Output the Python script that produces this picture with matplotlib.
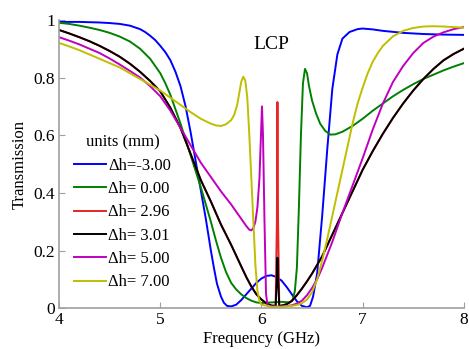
import matplotlib
matplotlib.use('Agg')
import matplotlib.pyplot as plt

plt.rcParams['font.family'] = ['Liberation Serif', 'DejaVu Serif']

# values (frequency in GHz, transmission)
f_m300 = [4.0, 4.2, 4.4, 4.5, 4.6, 4.7, 4.8, 4.85, 4.9, 4.95, 5.0, 5.05, 5.1, 5.15, 5.2, 5.25,
          5.3, 5.35, 5.4, 5.45, 5.5, 5.53, 5.56, 5.6, 5.63, 5.66, 5.7, 5.75, 5.8, 5.85, 5.9,
          5.95, 6.0, 6.05, 6.1, 6.15, 6.2, 6.25, 6.3, 6.35, 6.4, 6.45, 6.48, 6.51, 6.55, 6.6,
          6.65, 6.7, 6.75, 6.8, 6.87, 6.95, 7.0, 7.1, 7.2, 7.4, 7.6, 7.8, 8.0]
t_m300 = [0.993, 0.993, 0.991, 0.989, 0.986, 0.98, 0.968, 0.958, 0.945, 0.93, 0.91, 0.888,
          0.86, 0.82, 0.77, 0.70, 0.61, 0.51, 0.41, 0.31, 0.2, 0.14, 0.085, 0.04, 0.018, 0.008,
          0.006, 0.012, 0.028, 0.048, 0.068, 0.088, 0.103, 0.112, 0.114, 0.108, 0.095, 0.073,
          0.048, 0.024, 0.008, 0.003, 0.008, 0.04, 0.12, 0.32, 0.55, 0.76, 0.88, 0.935, 0.958,
          0.968, 0.97, 0.967, 0.962, 0.955, 0.951, 0.949, 0.948]

f_000 = [4.0, 4.1, 4.2, 4.3, 4.4, 4.5, 4.6, 4.7, 4.8, 4.9, 5.0, 5.05, 5.1, 5.15, 5.2, 5.3, 5.4,
         5.5, 5.55, 5.6, 5.65, 5.7, 5.75, 5.8, 5.85, 5.9, 5.95, 6.0, 6.1, 6.2, 6.28, 6.31,
         6.33, 6.35, 6.37, 6.39, 6.41, 6.43, 6.45, 6.47, 6.5, 6.54, 6.58, 6.63, 6.68, 6.73,
         6.8, 6.9, 7.0, 7.1, 7.2, 7.3, 7.4, 7.5, 7.6, 7.7, 7.8, 7.9, 8.0]
t_000 = [0.99, 0.986, 0.98, 0.973, 0.965, 0.955, 0.942, 0.925, 0.9, 0.865, 0.815, 0.78, 0.74,
         0.69, 0.64, 0.53, 0.42, 0.3, 0.235, 0.175, 0.125, 0.088, 0.065, 0.048, 0.035, 0.026,
         0.02, 0.018, 0.02, 0.022, 0.02, 0.03, 0.06, 0.14, 0.35, 0.6, 0.78, 0.83, 0.815, 0.77,
         0.72, 0.675, 0.64, 0.615, 0.602, 0.603, 0.612, 0.632, 0.657, 0.685, 0.71, 0.735,
         0.757, 0.777, 0.795, 0.81, 0.825, 0.838, 0.85]

f_296 = [4.0, 4.1, 4.2, 4.3, 4.4, 4.5, 4.6, 4.7, 4.8, 4.9, 5.0, 5.1, 5.2, 5.3, 5.4, 5.5, 5.6,
         5.7, 5.8, 5.85, 5.9, 5.95, 6.0, 6.05, 6.1, 6.14, 6.152, 6.158, 6.164, 6.176, 6.2,
         6.25, 6.3, 6.35, 6.4, 6.45, 6.5, 6.6, 6.7, 6.8, 6.9, 7.0, 7.1, 7.2, 7.3, 7.4, 7.5,
         7.6, 7.7, 7.8, 7.9, 8.0]
t_296 = [0.965, 0.953, 0.94, 0.926, 0.91, 0.892, 0.872, 0.848, 0.82, 0.788, 0.752, 0.695,
         0.625, 0.535, 0.445, 0.37, 0.29, 0.22, 0.145, 0.108, 0.075, 0.048, 0.03, 0.016, 0.009,
         0.008, 0.3, 0.715, 0.3, 0.008, 0.009, 0.014, 0.025, 0.045, 0.068, 0.093, 0.12, 0.18,
         0.255, 0.33, 0.405, 0.48, 0.545, 0.605, 0.66, 0.71, 0.755, 0.795, 0.83, 0.86, 0.882,
         0.9]

f_301 = [4.0, 4.1, 4.2, 4.3, 4.4, 4.5, 4.6, 4.7, 4.8, 4.9, 5.0, 5.1, 5.2, 5.3, 5.4, 5.5, 5.6,
         5.7, 5.8, 5.85, 5.9, 5.95, 6.0, 6.05, 6.1, 6.14, 6.152, 6.158, 6.164, 6.176, 6.2,
         6.25, 6.3, 6.35, 6.4, 6.45, 6.5, 6.6, 6.7, 6.8, 6.9, 7.0, 7.1, 7.2, 7.3, 7.4, 7.5,
         7.6, 7.7, 7.8, 7.9, 8.0]
t_301 = [0.965, 0.953, 0.94, 0.926, 0.91, 0.892, 0.872, 0.848, 0.82, 0.788, 0.752, 0.695,
         0.625, 0.535, 0.445, 0.37, 0.29, 0.22, 0.145, 0.108, 0.075, 0.048, 0.03, 0.016, 0.009,
         0.008, 0.1, 0.175, 0.1, 0.008, 0.009, 0.014, 0.025, 0.045, 0.068, 0.093, 0.12, 0.18,
         0.255, 0.33, 0.405, 0.48, 0.545, 0.605, 0.66, 0.71, 0.755, 0.795, 0.83, 0.86, 0.882,
         0.9]

f_500 = [4.0, 4.1, 4.2, 4.3, 4.4, 4.5, 4.6, 4.7, 4.8, 4.9, 5.0, 5.1, 5.2, 5.3, 5.4, 5.5, 5.6,
         5.7, 5.75, 5.8, 5.85, 5.88, 5.9, 5.92, 5.94, 5.96, 5.98, 5.995, 6.005, 6.015, 6.03,
         6.045, 6.06, 6.1, 6.2, 6.3, 6.35, 6.4, 6.45, 6.5, 6.55, 6.6, 6.7, 6.8, 6.9, 7.0,
         7.1, 7.2, 7.3, 7.4, 7.5, 7.6, 7.7, 7.8, 7.9, 8.0]
t_500 = [0.94, 0.928, 0.915, 0.9, 0.885, 0.866, 0.845, 0.823, 0.8, 0.77, 0.735, 0.685, 0.625,
         0.565, 0.505, 0.455, 0.405, 0.36, 0.335, 0.31, 0.285, 0.272, 0.27, 0.278, 0.3, 0.35,
         0.45, 0.6, 0.70, 0.6, 0.3, 0.05, 0.01, 0.005, 0.005, 0.01, 0.016, 0.026, 0.045, 0.07,
         0.1, 0.14, 0.23, 0.33, 0.425, 0.52, 0.62, 0.71, 0.785, 0.84, 0.885, 0.92, 0.942,
         0.957, 0.968, 0.975]

f_700 = [4.0, 4.1, 4.2, 4.3, 4.4, 4.5, 4.6, 4.7, 4.8, 4.9, 5.0, 5.1, 5.2, 5.3, 5.4, 5.5, 5.55,
         5.6, 5.65, 5.7, 5.73, 5.76, 5.78, 5.8, 5.82, 5.84, 5.86, 5.88, 5.9, 5.92, 5.94, 5.96,
         5.98, 6.0, 6.1, 6.2, 6.3, 6.35, 6.4, 6.45, 6.5, 6.55, 6.6, 6.65, 6.7, 6.75, 6.8, 6.85,
         6.9, 6.95, 7.0, 7.05, 7.1, 7.15, 7.2, 7.3, 7.4, 7.5, 7.6, 7.7, 7.8, 7.9, 8.0]
t_700 = [0.92, 0.908, 0.895, 0.88, 0.865, 0.85, 0.835, 0.815, 0.795, 0.775, 0.755, 0.73,
         0.705, 0.68, 0.657, 0.64, 0.634, 0.632, 0.638, 0.652, 0.67, 0.705, 0.745, 0.785,
         0.803, 0.79, 0.73, 0.6, 0.45, 0.3, 0.15, 0.06, 0.025, 0.012, 0.005, 0.005, 0.008,
         0.011, 0.017, 0.03, 0.055, 0.1, 0.165, 0.24, 0.32, 0.4, 0.48, 0.56, 0.64, 0.71, 0.765,
         0.815, 0.855, 0.885, 0.91, 0.943, 0.962, 0.972, 0.977, 0.978, 0.977, 0.975, 0.973]

series = [
    (f_m300, t_m300, 'Δh=-3.00', (0, 0, 1)),
    (f_000, t_000, 'Δh= 0.00', (0, 0.5, 0)),
    (f_296, t_296, 'Δh= 2.96', (0.9, 0.15, 0.15)),
    (f_301, t_301, 'Δh= 3.01', (0, 0, 0)),
    (f_500, t_500, 'Δh= 5.00', (0.75, 0, 0.75)),
    (f_700, t_700, 'Δh= 7.00', (0.75, 0.75, 0)),
]

fig = plt.figure(figsize=(4.69, 3.49), dpi=100)
ax = fig.add_axes([0.126, 0.117, 0.863, 0.826])

for f, t, lab, c in series:
    ax.plot(f, t, color=c, lw=1.4, label=lab)

ax.set_xlim(4, 8)
ax.set_ylim(0, 1)
ax.set_xticks([4, 5, 6, 7, 8])
ax.set_yticks([0, 0.2, 0.4, 0.6, 0.8, 1])
ax.set_yticklabels(['0', '0.2', '0.4', '0.6', '0.8', '1'])
for s in ['top', 'right']:
    ax.spines[s].set_visible(False)
for s in ['left', 'bottom']:
    ax.spines[s].set_color('#a0a0a0')
    ax.spines[s].set_linewidth(1.2)
ax.tick_params(direction='in', color='#a0a0a0', length=4, labelsize=12.5, pad=3)

ax.set_xlabel('Frequency (GHz)', fontsize=12, labelpad=2)
ax.set_ylabel('Transmission', fontsize=12, labelpad=4)
ax.text(6.1, 0.913, 'LCP', fontsize=14, ha='center', va='center')

leg = ax.legend(loc='upper left', bbox_to_anchor=(0.02, 0.626), frameon=False,
                title='units (mm)', fontsize=12, title_fontsize=12,
                handlelength=1.9, handletextpad=0.15, labelspacing=0.44,
                borderaxespad=0)

fig.savefig('out.png', dpi=100)
